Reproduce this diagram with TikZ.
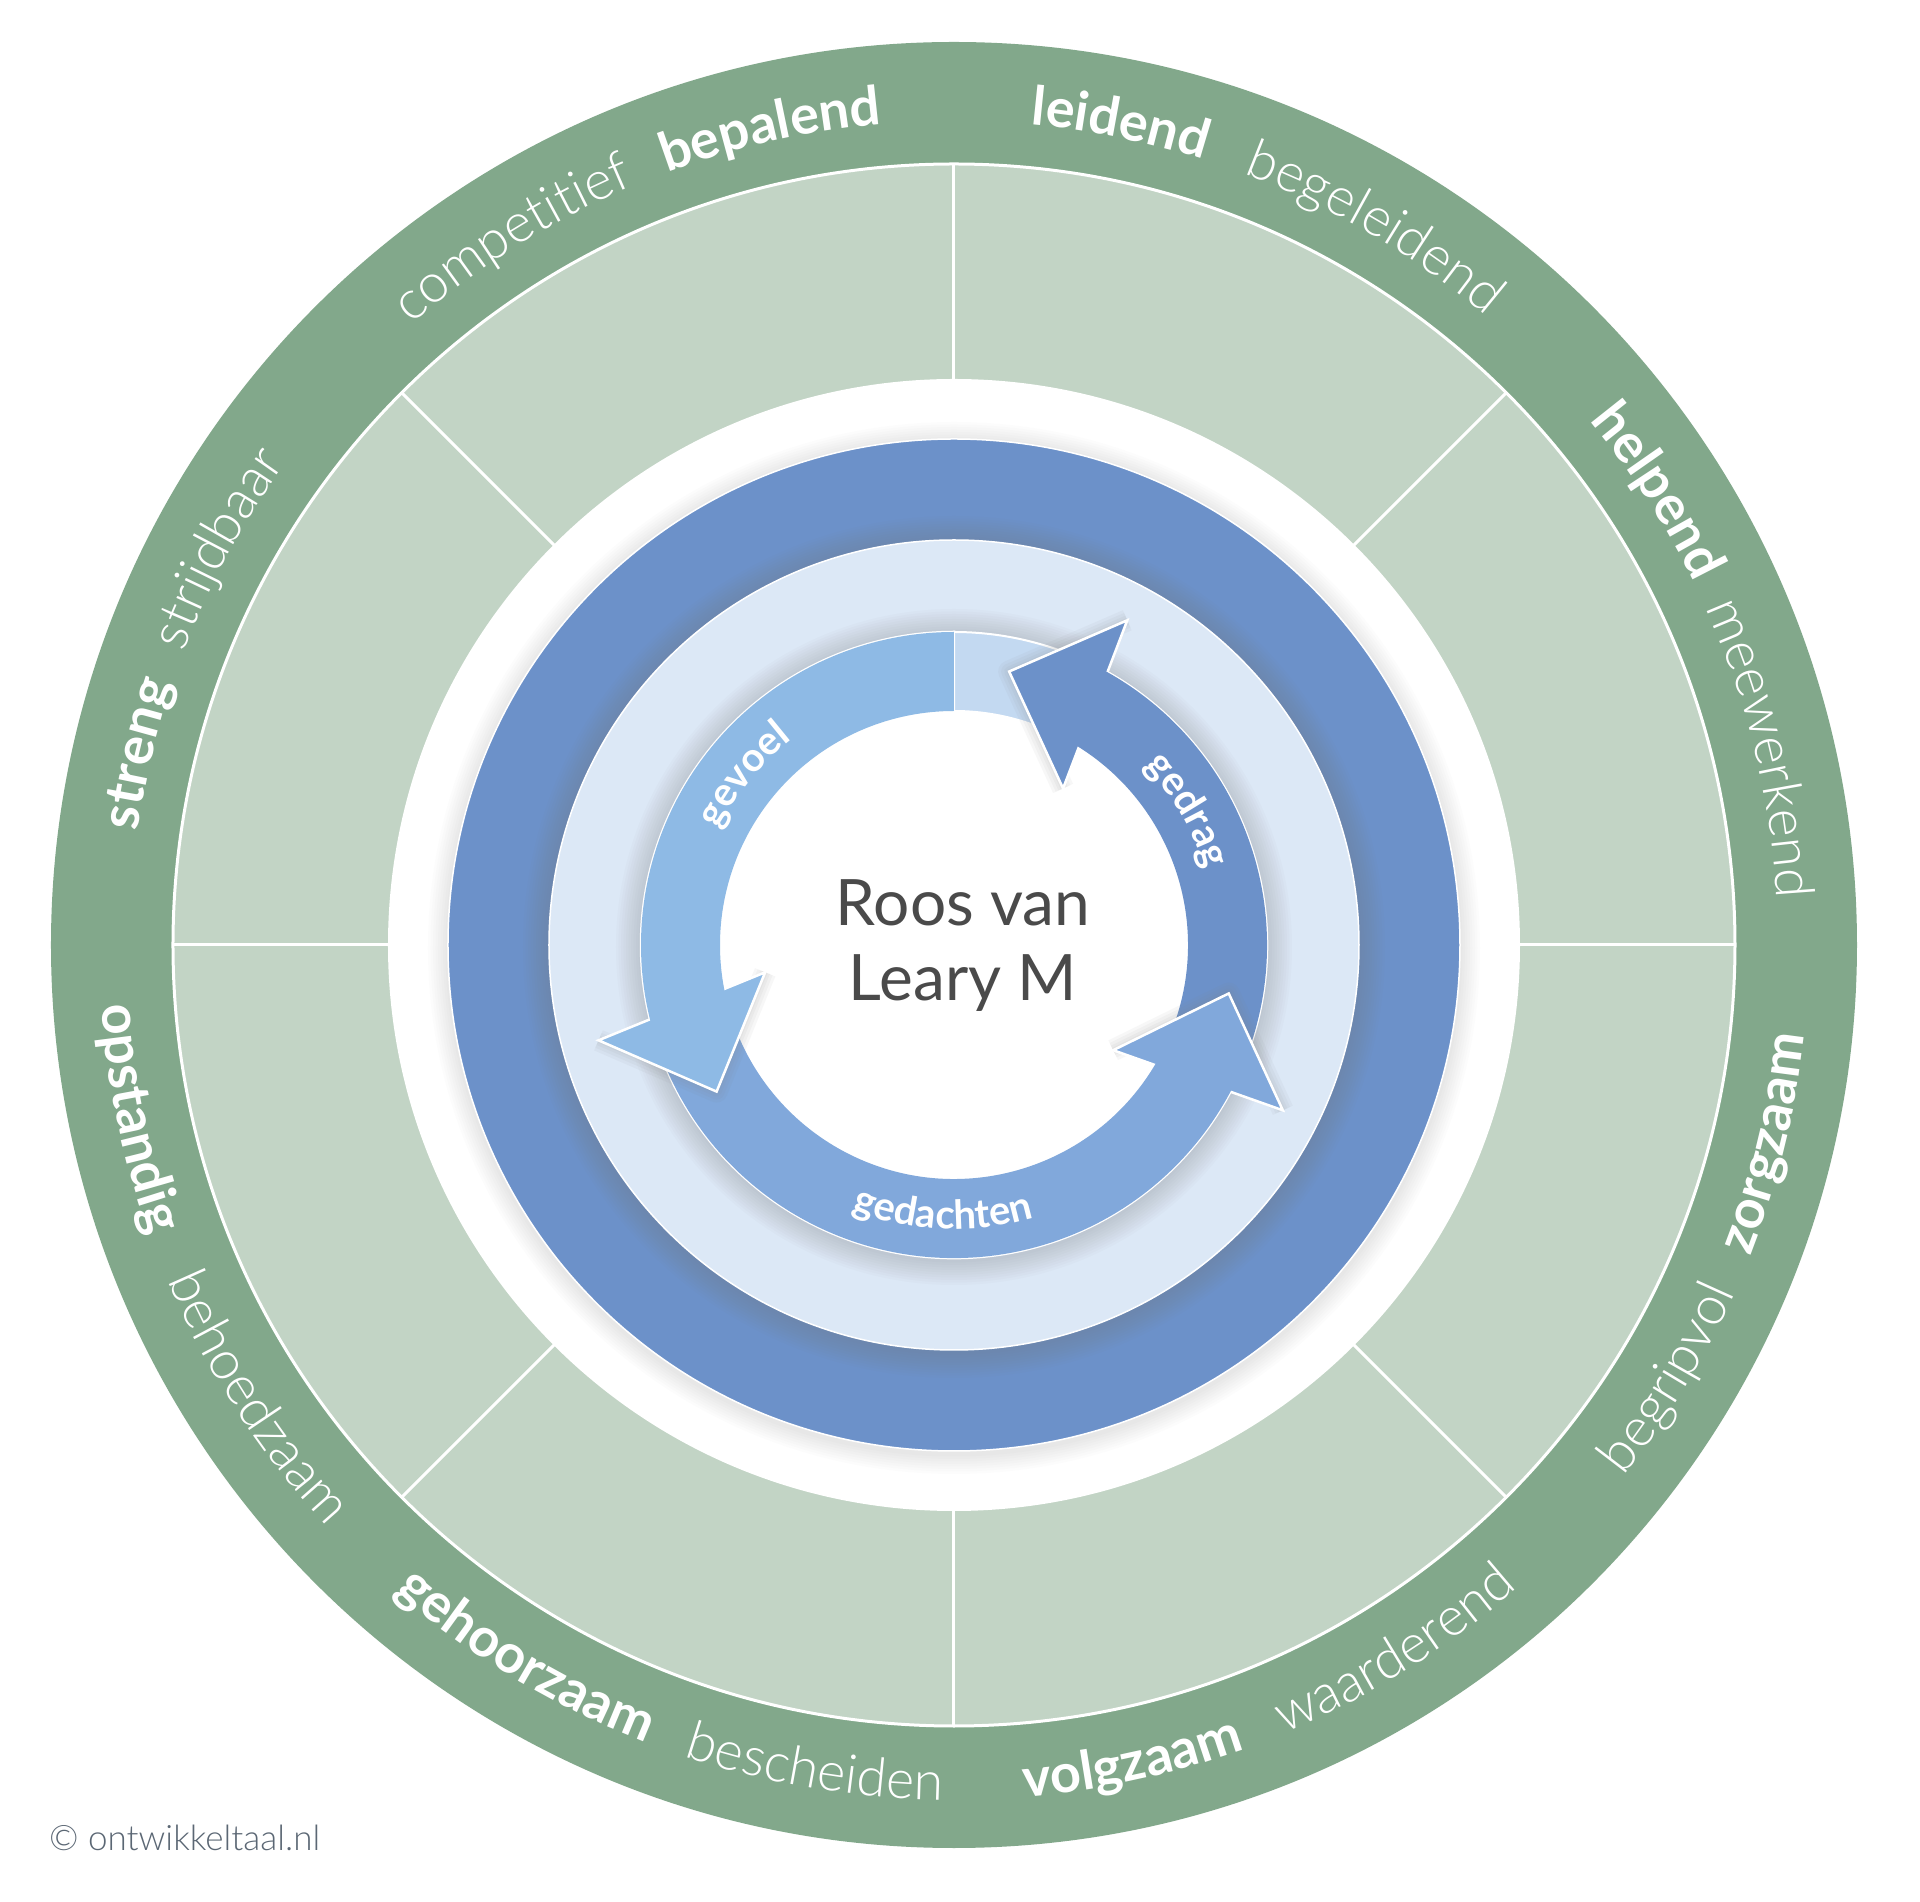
\documentclass[tikz,border=0pt]{standalone}
\usepackage{fontspec}
\setmainfont{Lato}
\newfontfamily\fntlight{Lato Light}
\newfontfamily\fntarrow{Lato}[LetterSpace=6]
\usetikzlibrary{decorations.text,calc}
\definecolor{cgreen}{HTML}{82A88B}
\definecolor{clgreen}{HTML}{C2D4C5}
\definecolor{cring}{HTML}{6C91C9}
\definecolor{cdisc}{HTML}{DCE8F6}
\definecolor{cgevoel}{HTML}{8EBAE5}
\definecolor{cgedachten}{HTML}{81A8DB}
\definecolor{cgedrag}{HTML}{6C91C9}
\definecolor{cpale}{HTML}{C3D9F1}
\definecolor{ctext}{HTML}{4A4A4A}
\definecolor{ccopy}{HTML}{5B6774}
\newcommand\lblbold{\bfseries\fontsize{54}{60}\selectfont\color{white}}
\newcommand\lbllight{\fntlight\fontsize{54}{60}\selectfont\color{white}}
\newcommand\arrowlbl{\fntarrow\bfseries\fontsize{40}{42}\selectfont\color{white}}
\newcommand\toplbl[3]{\path[decorate, decoration={text along path, text align=center, text={|#2|#3}}] (#1+40:824) arc[start angle=#1+40, end angle=#1-40, radius=824];}
\newcommand\botlbl[3]{\path[decorate, decoration={text along path, text align=center, text={|#2|#3}}] (#1-40:855) arc[start angle=#1-40, end angle=#1+40, radius=855];}
\newcommand\shaftpath[2]{(#1:313) arc[start angle=#1, end angle=#2, radius=313] -- (#2:234) arc[start angle=#2, end angle=#1, radius=234] -- cycle}
\newcommand\cyclearrow[3]{%
  \pgfmathsetmacro\aend{#3+2.5}%
  \pgfmathsetmacro\atip{#3+19}%
  \pgfmathsetmacro\aperp{#3+9.5}%
  \coordinate (hb) at (#3:279);
  \coordinate (ho) at ($(hb)+(\aperp:90)$);
  \coordinate (hi) at ($(hb)-(\aperp:90)$);
  \coordinate (ht) at (\atip:279);
  \filldraw[fill=#1, draw=white, line width=2.5] \shaftpath{#2}{\aend};
  \foreach \w in {22,16,10,5} \draw[gray, opacity=0.06, line width=\w, line join=round] (ho) -- (ht) -- (hi);
  \filldraw[fill=#1, draw=white, line width=2.5, line join=miter] (ho) -- (ht) -- (hi) -- cycle;
  \fill[#1] \shaftpath{#2}{\aend};
}
\begin{document}
\begin{tikzpicture}[x=1pt,y=1pt]
\useasboundingbox[fill=white] (-954,-957) rectangle (966,945);
% outer rings
\fill[cgreen] (0,0) circle[radius=903];
\filldraw[fill=clgreen, draw=white, line width=3] (0,0) circle[radius=781];
\foreach \a in {0,45,...,315} \draw[white, line width=3] (\a:550) -- (\a:781);
\fill[white] (0,0) circle[radius=566];
% blue ring with soft shadow
\foreach \i in {1,...,8} \fill[gray, opacity=0.018] (0,-3) circle[radius=506+\i*2.5];
\filldraw[fill=cring, draw=white, line width=1.5] (0,0) circle[radius=506];
\foreach \i in {1,...,10} \fill[gray, opacity=0.035] (0,-2) circle[radius=405+\i*2.6];
\filldraw[fill=cdisc, draw=white, line width=1.5] (0,0) circle[radius=405];
\foreach \i in {1,...,10} \fill[gray, opacity=0.03] (0,-2) circle[radius=313+\i*2.5];
\fill[white] (0,0) circle[radius=313];
% pale segment at the top
\filldraw[fill=cpale, draw=white, line width=2] \shaftpath{50}{90};
% arrows
\cyclearrow{cgedrag}{-24}{59.6}
\cyclearrow{cgedachten}{198}{331}
\cyclearrow{cgevoel}{90}{192.7}
% arrow labels
\path[decorate, decoration={text along path, text align=center, text={|\arrowlbl|gevoel}}] (181:262) arc[start angle=181, end angle=101, radius=262];
\path[decorate, decoration={text along path, text align=center, text={|\arrowlbl|gedrag}}] (70:262) arc[start angle=70, end angle=-10, radius=262];
\path[decorate, decoration={text along path, text align=center, text={|\arrowlbl|gedachten}}] (227.7:284) arc[start angle=227.7, end angle=307.7, radius=284];
% outer labels, upper half
\toplbl{102.7}{\lblbold}{bepalend}
\toplbl{122}{\lbllight}{competitief}
\toplbl{78.5}{\lblbold}{leidend}
\toplbl{59.6}{\lbllight}{begeleidend}
\toplbl{32.8}{\lblbold}{helpend}
\toplbl{13.7}{\lbllight}{meewerkend}
\toplbl{166.8}{\lblbold}{streng}
\toplbl{151.7}{\lbllight}{strijdbaar}
% outer labels, lower half
\botlbl{346.3}{\lblbold}{zorgzaam}
\botlbl{328.8}{\lbllight}{begripvol}
\botlbl{302}{\lbllight}{waarderend}
\botlbl{282.3}{\lblbold}{volgzaam}
\botlbl{260.4}{\lbllight}{bescheiden}
\botlbl{239}{\lblbold}{gehoorzaam}
\botlbl{213}{\lbllight}{behoedzaam}
\botlbl{192}{\lblbold}{opstandig}
% centre and copyright
\node[font=\fontsize{64}{76}\selectfont, text=ctext, anchor=base, inner sep=0] (roos) at (9,19) {Roos van};
\node[font=\fontsize{64}{76}\selectfont, text=ctext, anchor=base, inner sep=0] (leary) at (9,-56) {Leary M};
\node[font=\fntlight\fontsize{35}{38}\selectfont, text=ccopy, anchor=base west, inner sep=0] (copyr) at (-905,-905) {© ontwikkeltaal.nl};
\end{tikzpicture}
\end{document}
